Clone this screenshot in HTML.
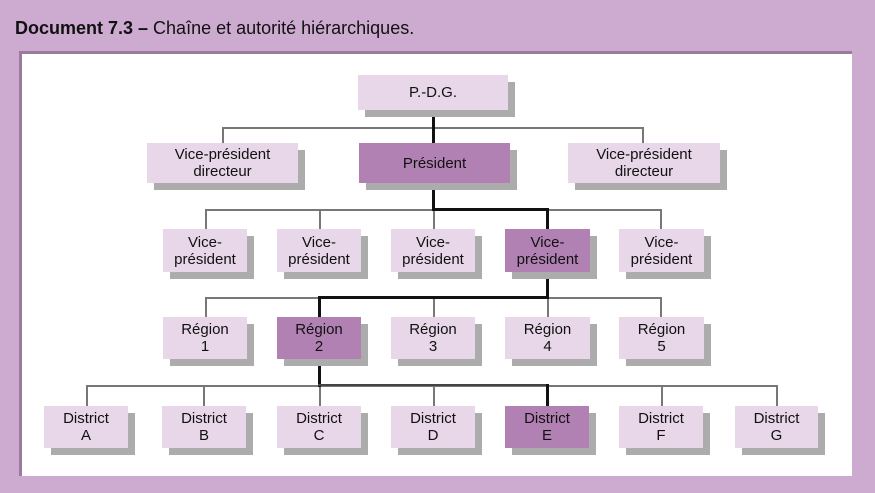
<!DOCTYPE html>
<html><head><meta charset="utf-8"><style>
body{margin:0;width:875px;height:493px;background:#cdaad0;position:relative;overflow:hidden;font-family:"Liberation Sans",sans-serif}
.title{position:absolute;left:15px;top:18px;font-size:18px;color:#111;font-family:"Liberation Sans",sans-serif}
.panel{position:absolute;left:19px;top:51px;width:833px;height:425px;background:#fff;border-top:3px solid #9c7a9e;border-left:3px solid #9c7a9e;box-sizing:border-box}
.b{position:absolute;background:#e8d6e9;color:#111;font-size:15px;line-height:17px;text-align:center;display:flex;align-items:center;justify-content:center;box-shadow:7px 7px 0 #acacac}
.d{background:#b281b4}
.l{position:absolute;background:#777}
.k{position:absolute;background:#111}
</style></head><body>
<div class="title"><b>Document 7.3 –</b> Chaîne et autorité hiérarchiques.</div>
<div class="panel"></div>
<div class="l" style="left:222px;top:127px;width:422px;height:2px"></div>
<div class="l" style="left:222px;top:127px;width:2px;height:16px"></div>
<div class="l" style="left:642px;top:127px;width:2px;height:16px"></div>
<div class="k" style="left:432px;top:110px;width:3px;height:33px"></div>

<div class="l" style="left:205px;top:209px;width:457px;height:2px"></div>
<div class="l" style="left:205px;top:209px;width:2px;height:20px"></div>
<div class="l" style="left:319px;top:209px;width:2px;height:20px"></div>
<div class="l" style="left:433px;top:209px;width:2px;height:20px"></div>
<div class="l" style="left:660px;top:209px;width:2px;height:20px"></div>
<div class="k" style="left:432px;top:183px;width:3px;height:28px"></div>
<div class="k" style="left:432px;top:208px;width:117px;height:3px"></div>
<div class="k" style="left:546px;top:208px;width:3px;height:21px"></div>

<div class="l" style="left:205px;top:297px;width:457px;height:2px"></div>
<div class="l" style="left:205px;top:297px;width:2px;height:20px"></div>
<div class="l" style="left:433px;top:297px;width:2px;height:20px"></div>
<div class="l" style="left:547px;top:297px;width:2px;height:20px"></div>
<div class="l" style="left:660px;top:297px;width:2px;height:20px"></div>
<div class="k" style="left:546px;top:273px;width:3px;height:26px"></div>
<div class="k" style="left:318px;top:296px;width:231px;height:3px"></div>
<div class="k" style="left:318px;top:296px;width:3px;height:21px"></div>

<div class="l" style="left:86px;top:385px;width:692px;height:2px"></div>
<div class="l" style="left:86px;top:385px;width:2px;height:21px"></div>
<div class="l" style="left:203px;top:385px;width:2px;height:21px"></div>
<div class="l" style="left:319px;top:385px;width:2px;height:21px"></div>
<div class="l" style="left:433px;top:385px;width:2px;height:21px"></div>
<div class="l" style="left:661px;top:385px;width:2px;height:21px"></div>
<div class="l" style="left:776px;top:385px;width:2px;height:21px"></div>
<div class="k" style="left:318px;top:359px;width:3px;height:28px"></div>
<div class="k" style="left:318px;top:384px;width:231px;height:2px;background:#444"></div>
<div class="k" style="left:546px;top:384px;width:3px;height:22px"></div>

<div class="b" style="left:358px;top:75px;width:150px;height:35px">P.-D.G.</div>
<div class="b" style="left:147px;top:143px;width:151px;height:40px">Vice-président<br>directeur</div>
<div class="b d" style="left:359px;top:143px;width:151px;height:40px">Président</div>
<div class="b" style="left:568px;top:143px;width:152px;height:40px">Vice-président<br>directeur</div>

<div class="b" style="left:163px;top:229px;width:84px;height:43px">Vice-<br>président</div>
<div class="b" style="left:277px;top:229px;width:84px;height:43px">Vice-<br>président</div>
<div class="b" style="left:391px;top:229px;width:84px;height:43px">Vice-<br>président</div>
<div class="b d" style="left:505px;top:229px;width:85px;height:43px">Vice-<br>président</div>
<div class="b" style="left:619px;top:229px;width:85px;height:43px">Vice-<br>président</div>

<div class="b" style="left:163px;top:317px;width:84px;height:42px">Région<br>1</div>
<div class="b d" style="left:277px;top:317px;width:84px;height:42px">Région<br>2</div>
<div class="b" style="left:391px;top:317px;width:84px;height:42px">Région<br>3</div>
<div class="b" style="left:505px;top:317px;width:85px;height:42px">Région<br>4</div>
<div class="b" style="left:619px;top:317px;width:85px;height:42px">Région<br>5</div>

<div class="b" style="left:44px;top:406px;width:84px;height:42px">District<br>A</div>
<div class="b" style="left:162px;top:406px;width:84px;height:42px">District<br>B</div>
<div class="b" style="left:277px;top:406px;width:84px;height:42px">District<br>C</div>
<div class="b" style="left:391px;top:406px;width:84px;height:42px">District<br>D</div>
<div class="b d" style="left:505px;top:406px;width:84px;height:42px">District<br>E</div>
<div class="b" style="left:619px;top:406px;width:84px;height:42px">District<br>F</div>
<div class="b" style="left:735px;top:406px;width:83px;height:42px">District<br>G</div>
</body></html>
